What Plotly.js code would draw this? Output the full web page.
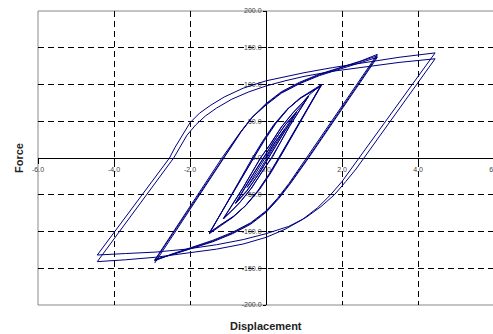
<!DOCTYPE html>
<html>
<head>
<meta charset="utf-8">
<script src="https://cdn.plot.ly/plotly-3.0.1.min.js"></script>
<style>
html,body{margin:0;padding:0;overflow:hidden;background:#fff;}
#chart{width:500px;height:334px;}
</style>
</head>
<body>
<div id="chart"></div>
<script>
// Axis ticks
var xTicks = [-6, -4, -2, 0, 2, 4, 6];
var yTicks = [-200, -150, -100, -50, 0, 50, 100, 150, 200];

// Small-amplitude cycles (displacement, force)
var smallX = [0, 0.25, 0.5, 0.3, 0.05, -0.2, -0.5, -0.3, -0.05, 0.2, 0.5,
  0.65, 0.8, 0.45, 0.08, -0.2, -0.5, -0.8, -0.45, -0.08, 0.2, 0.5, 0.8,
  0.45, 0.1, -0.18, -0.5, -0.8, -0.45, -0.07, 0.22, 0.52, 0.8,
  0.95, 1.12, 0.62, 0.15, -0.1, -0.4, -0.7, -0.92, -1.12, -0.62, -0.16, 0.1, 0.4, 0.7, 0.92, 1.12,
  0.62, 0.18, -0.08, -0.38, -0.68, -0.9, -1.12, -0.6, -0.13, 0.12, 0.42, 0.72, 0.94, 1.12,
  1.3, 1.46, 0.33, 0.08, -0.22, -0.56, -0.88, -1.2, -1.49, -0.36, -0.1, 0.2, 0.55, 0.88, 1.2, 1.46,
  0.36, 0.1, -0.2, -0.54, -0.86, -1.2, -1.49, -0.33, -0.07, 0.23, 0.58, 0.9, 1.2, 1.46,
  0.38, 0.13, -0.17, -0.52, -0.85, -1.18, -1.48, -0.3, -0.04, 0.26, 0.6, 0.92, 1.22, 1.46];
var smallY = [0, 22, 40, 23, 1, -19, -40, -23, -1, 19, 40,
  52, 62, 32, 1, -22, -45, -62, -32, -1, 22, 45, 62,
  33, 3, -21, -44, -61, -31, 1, 24, 46, 63,
  72, 84, 43, 1, -18, -42, -61, -73, -83, -42, -1, 18, 42, 61, 73, 84,
  44, 2, -17, -41, -60, -72, -82, -40, 1, 19, 43, 62, 74, 85,
  93, 100, 0, -22, -45, -66, -81, -92, -103, 0, 22, 45, 66, 81, 92, 100,
  1, -21, -44, -65, -80, -91, -102, 1, 23, 46, 67, 81, 91, 99,
  2, -20, -43, -64, -79, -90, -101, 2, 24, 47, 68, 82, 91, 98];

// Medium-amplitude cycles
var medX = [-2.93, -1.12, -0.9, -0.65, -0.35, 0, 0.4, 0.88, 1.4, 2.0, 2.5, 2.93,
  1.08, 0.86, 0.6, 0.3, 0, -0.4, -0.88, -1.4, -2.0, -2.5, -2.93,
  -1.14, -0.92, -0.67, -0.37, 0, 0.4, 0.88, 1.4, 2.0, 2.5, 2.93,
  1.1, 0.88, 0.62, 0.32, 0, -0.4, -0.88, -1.4, -2.0, -2.5, -2.93,
  -1.16, -0.94, -0.69, -0.39, 0, 0.4, 0.88, 1.4, 2.0, 2.5, 2.93,
  1.12, 0.9, 0.64, 0.34, 0, -0.4, -0.88, -1.4, -2.0, -2.5, -2.93];
var medY = [-143, 0, 17, 36, 56, 74, 90, 103, 114, 124, 132, 141,
  0, -16, -35, -55, -72, -88, -101, -112, -122, -131, -140,
  0, 16, 35, 55, 73, 89, 102, 113, 123, 131, 139,
  0, -16, -35, -55, -73, -89, -102, -113, -123, -131, -139,
  0, 16, 34, 54, 72, 88, 101, 112, 122, 130, 137,
  0, -16, -35, -55, -74, -90, -103, -114, -124, -132, -138];

// Large-amplitude cycles
var largeX = [-4.44, -2.54, -2.4, -2.2, -2.0, -1.75, -1.45, -1.1, -0.6, 0, 0.5, 1.0, 1.75, 2.6, 3.5, 4.45,
  2.46, 2.25, 2.0, 1.7, 1.35, 0.95, 0.5, 0, -0.6, -1.3, -2.1, -2.9, -3.7, -4.44,
  -2.43, -2.28, -2.08, -1.85, -1.6, -1.3, -0.9, -0.45, 0, 0.5, 1.0, 1.75, 2.6, 3.5, 4.45,
  2.58, 2.37, 2.1, 1.8, 1.45, 1.05, 0.6, 0, -0.6, -1.3, -2.1, -2.9, -3.7, -4.44];
var largeY = [-132, 0, 14, 32, 48, 61, 72, 83, 95, 105, 111, 116, 123, 130, 137, 143,
  0, -15, -32, -50, -68, -84, -97, -108, -117, -124, -130, -135, -138.5, -141,
  0, 14, 31, 45, 57, 68, 80, 90, 98, 105, 111, 118, 124, 130, 135,
  0, -15, -32, -50, -66, -81, -93, -103, -111, -118, -124, -128, -130, -132];

var lineStyle = {color: '#000080', width: 1};
var traces = [
  {x: smallX, y: smallY, mode: 'lines', line: lineStyle, hoverinfo: 'skip'},
  {x: medX, y: medY, mode: 'lines', line: lineStyle, hoverinfo: 'skip'},
  {x: largeX, y: largeY, mode: 'lines', line: lineStyle, hoverinfo: 'skip'}
];

var tickFont = {family: 'Arial, "Liberation Sans", sans-serif', size: 7, color: '#444'};
var titleFont = {family: 'Arial, "Liberation Sans", sans-serif', size: 11, color: '#222', weight: 'bold'};

var layout = {
  width: 500, height: 334,
  margin: {l: 38, r: 6, t: 11, b: 29},
  paper_bgcolor: '#fff', plot_bgcolor: '#fff',
  showlegend: false,
  xaxis: {
    range: [-6, 6], tickvals: xTicks, ticktext: xTicks.map(function(v){return v.toFixed(1);}),
    anchor: 'free', position: 0.5,
    showgrid: true, gridcolor: '#000', gridwidth: 1, griddash: '6px,4px',
    zeroline: true, zerolinecolor: '#000', zerolinewidth: 1,
    showline: false, ticks: 'outside', ticklen: 5, tickcolor: '#000',
    tickfont: tickFont, layer: 'below traces', fixedrange: true
  },
  yaxis: {
    range: [-200, 200], tickvals: yTicks, ticktext: yTicks.map(function(v){return v.toFixed(1);}),
    anchor: 'free', position: 0.5,
    showgrid: true, gridcolor: '#000', gridwidth: 1, griddash: '6px,4px',
    zeroline: true, zerolinecolor: '#000', zerolinewidth: 1,
    showline: false, ticks: 'outside', ticklen: 3, tickcolor: '#000',
    tickfont: tickFont, layer: 'below traces', fixedrange: true
  },
  shapes: [
    {type: 'rect', xref: 'paper', yref: 'paper', x0: 0, x1: 1, y0: 0, y1: 1,
     line: {color: '#888', width: 1}, layer: 'below'}
  ],
  annotations: [
    {text: '<b>Displacement</b>', xref: 'paper', yref: 'paper', x: 0.5, y: 0, yshift: -21,
     xanchor: 'center', yanchor: 'middle', showarrow: false, font: titleFont},
    {text: '<b>Force</b>', xref: 'paper', yref: 'paper', x: 0, xshift: -19, y: 0.5,
     xanchor: 'center', yanchor: 'middle', textangle: -90, showarrow: false, font: titleFont}
  ]
};

Plotly.newPlot('chart', traces, layout, {staticPlot: true, displayModeBar: false});
</script>
</body>
</html>
